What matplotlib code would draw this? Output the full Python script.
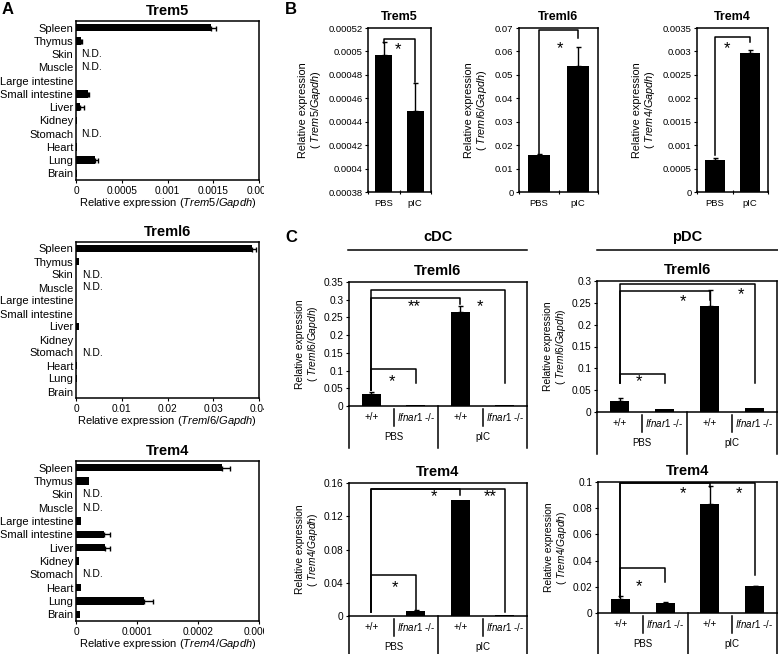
import matplotlib
matplotlib.use('Agg')
import matplotlib.pyplot as plt
import numpy as np
from matplotlib.lines import Line2D
from matplotlib.transforms import blended_transform_factory, offset_copy, Bbox, TransformedBbox

plt.rcParams['font.family'] = ['Liberation Sans', 'DejaVu Sans']
plt.rcParams['mathtext.fontset'] = 'custom'
plt.rcParams['mathtext.it'] = 'Liberation Sans:italic'
plt.rcParams['mathtext.rm'] = 'Liberation Sans'
plt.rcParams['axes.linewidth'] = 1.1

# ---- data: panel A (tissues) ----
tissues = ['Spleen', 'Thymus', 'Skin', 'Muscle', 'Large intestine', 'Small intestine',
           'Liver', 'Kidney', 'Stomach', 'Heart', 'Lung', 'Brain']
not_detected = ['Skin', 'Muscle', 'Stomach']

a_trem5 = [0.00148, 0.00006, 0, 0, 0.000004, 0.000134, 0.000043, 0.000008, 0, 0.000008, 0.000207, 0.000008]
a_trem5_err = [0.00005, 0.00001, 0, 0, 0, 0.00001, 0.00004, 0, 0, 0, 0.000036, 0]
a_treml6 = [0.0384, 0.0007, 0, 0, 0.0001, 0.0001, 0.0007, 0.0001, 0, 0.0002, 0.0002, 0.0001]
a_treml6_err = [0.0009, 0, 0, 0, 0, 0, 0, 0, 0, 0, 0, 0]
a_trem4 = [0.00024, 0.000021, 0, 0, 0.0000077, 0.000046, 0.000047, 0.000005, 0, 0.000008, 0.000111, 0.000006]
a_trem4_err = [0.000012, 0, 0, 0, 0, 0.00001, 0.000008, 0, 0, 0, 0.000016, 0]

# ---- data: panel B (PBS vs pIC) ----
b_groups = ['PBS', 'pIC']
b_trem5 = [0.000497, 0.000449]
b_trem5_err = [0.000011, 0.000024]
b_treml6 = [0.0157, 0.0536]
b_treml6_err = [0.0006, 0.0085]
b_trem4 = [0.00068, 0.00296]
b_trem4_err = [0.00005, 0.00008]

# bracket: (y, left leg bottom, right leg bottom), star (x, y)
b_trem5_br = (0.000511, 0.000507, 0.000474)
b_trem5_star = (0.45, 0.000505)
b_treml6_br = (0.069, 0.0164, 0.0657)
b_treml6_star = (0.54, 0.0627)
b_trem4_br = (0.00331, 0.00079, 0.00321)
b_trem4_star = (0.35, 0.00314)

# ---- data: panel C (cDC / pDC, WT vs Ifnar1-/-) ----
c_genotypes = ['+/+', '$\\it{Ifnar1}$ -/-', '+/+', '$\\it{Ifnar1}$ -/-']
c_treatments = ['PBS', 'pIC']

cdc_treml6 = [0.033, 0.004, 0.265, 0.002]
cdc_treml6_err = [0.006, 0, 0.017, 0]
pdc_treml6 = [0.026, 0.007, 0.242, 0.009]
pdc_treml6_err = [0.006, 0, 0.038, 0]
cdc_trem4 = [0.0004, 0.006, 0.14, 0.0015]
cdc_trem4_err = [0, 0.0008, 0, 0]
pdc_trem4 = [0.0105, 0.0078, 0.083, 0.0205]
pdc_trem4_err = [0.0025, 0.0006, 0.014, 0.0004]

# brackets: (x0, x1, y, leg0 bottom, leg1 bottom)
cdc_treml6_br = [(0, 1, 0.105, 0.045, 0.065), (0, 2, 0.305, 0.045, 0.288), (0, 3, 0.328, 0.045, 0.065)]
cdc_treml6_stars = [(0.47, 0.079, '*'), (0.96, 0.293, '**'), (2.44, 0.293, '*')]
pdc_treml6_br = [(0, 1, 0.086, 0.066, 0.066), (0, 2, 0.277, 0.066, 0.257), (0, 3, 0.292, 0.066, 0.066)]
pdc_treml6_stars = [(0.43, 0.078, '*'), (1.41, 0.261, '*'), (2.7, 0.279, '*')]
cdc_trem4_br = [(0, 1, 0.049, 0.005, 0.005), (0, 2, 0.153, 0.005, 0.146), (0, 3, 0.153, 0.005, 0.005)]
cdc_trem4_stars = [(0.53, 0.0385, '*'), (1.41, 0.148, '*'), (2.67, 0.148, '**')]
pdc_trem4_br = [(0, 1, 0.0346, 0.0122, 0.0237), (0, 2, 0.099, 0.0122, 0.0965), (0, 3, 0.099, 0.0122, 0.0287)]
pdc_trem4_stars = [(0.42, 0.023, '*'), (1.4, 0.094, '*'), (2.64, 0.094, '*')]

W, H = 778, 654
fig = plt.figure(figsize=(W / 100, H / 100), dpi=100)
# panel A tick labels are cut at the panel edge in the original figure
clip_a = TransformedBbox(Bbox.from_extents(0, 0, 264 / W, 1), fig.transFigure)


def add_ax(box):
    l, t, r, b = box
    return fig.add_axes([l / W, 1 - b / H, (r - l) / W, (b - t) / H])


def fig_text(x, y, s, **kw):
    fig.text(x / W, 1 - y / H, s, **kw)


def fig_hline(x0, x1, y):
    fig.add_artist(Line2D([x0 / W, x1 / W], [1 - y / H, 1 - y / H], color='black', lw=1.1))


def star_text(ax, x, y, s):
    tr = offset_copy(ax.transData, fig=fig, x=0, y=-4, units='dots')
    ax.text(x, y, s, transform=tr, fontsize=12, ha='center', va='center')


def upper_err(ax, x, vals, errs, horizontal=False):
    for xi, v, e in zip(x, vals, errs):
        if e <= 0:
            continue
        if horizontal:
            ax.errorbar(v, xi, xerr=[[0], [e]], fmt='none', ecolor='black', elinewidth=1, capsize=1.8, capthick=1)
        else:
            ax.errorbar(xi, v, yerr=[[0], [e]], fmt='none', ecolor='black', elinewidth=1, capsize=1.8, capthick=1)


def tissue_panel(box, title, vals, errs, xmax, ticks, ticklabels, gene, nd_x):
    ax = add_ax(box)
    y = np.arange(len(tissues))
    ax.barh(y, vals, height=0.55, color='black')
    upper_err(ax, y, vals, errs, horizontal=True)
    ax.set_ylim(len(tissues) - 0.5, -0.5)
    ax.set_xlim(0, xmax)
    ax.set_yticks(y)
    ax.set_yticklabels(tissues, fontsize=8)
    ax.tick_params(axis='y', length=0, pad=2)
    ax.set_xticks(ticks)
    ax.set_xticklabels(ticklabels, fontsize=7.3)
    ax.tick_params(axis='x', length=2, width=0.8, pad=2)
    for lab in ax.get_xticklabels():
        lab.set_clip_box(clip_a)
        lab.set_clip_on(True)
    for name in not_detected:
        ax.text(nd_x, tissues.index(name), 'N.D.', fontsize=7.5, va='center')
    ax.set_title(title, fontsize=10.5, fontweight='bold', pad=4)
    ax.set_xlabel('Relative expression ($\\it{%s/Gapdh}$)' % gene, fontsize=8, labelpad=0.5)
    return ax


def pbs_panel(box, title, vals, errs, ylim, yticks, yticklabels, gene, br, star):
    ax = add_ax(box)
    x = np.arange(len(b_groups))
    ax.bar(x, vals, width=0.55, color='black')
    upper_err(ax, x, vals, errs)
    ax.set_xlim(-0.5, 1.5)
    ax.set_ylim(*ylim)
    ax.set_yticks(yticks)
    ax.set_yticklabels(yticklabels, fontsize=6.8)
    ax.tick_params(axis='y', length=2, width=0.8, pad=2)
    ax.set_xticks(x)
    ax.set_xticklabels(b_groups, fontsize=6.8)
    ax.set_xticks([-0.5, 0.5, 1.5], minor=True)
    ax.tick_params(axis='x', which='major', length=0, pad=5)
    ax.tick_params(axis='x', which='minor', length=3, width=0.8, direction='inout')
    y, l0, l1 = br
    ax.plot([0, 0, 1, 1], [l0, y, y, l1], color='black', lw=1.1)
    star_text(ax, star[0], star[1], '*')
    ax.set_title(title, fontsize=9, fontweight='bold', pad=6)
    ax.set_ylabel('Relative expression\n( $\\it{%s/Gapdh}$)' % gene, fontsize=7.8, labelpad=4, linespacing=1.1)
    return ax


def dc_panel(box, title, vals, errs, ymax, yticks, yticklabels, gene, brackets, stars):
    ax = add_ax(box)
    x = np.arange(len(c_genotypes))
    ax.bar(x, vals, width=0.42, color='black')
    upper_err(ax, x, vals, errs)
    ax.set_xlim(-0.5, 3.5)
    ax.set_ylim(0, ymax)
    ax.set_xticks([])
    ax.set_yticks(yticks)
    ax.set_yticklabels(yticklabels, fontsize=7.3)
    ax.tick_params(axis='y', length=2, width=0.8, pad=2)
    for x0, x1, y, l0, l1 in brackets:
        ax.plot([x0, x0, x1, x1], [l0, y, y, l1], color='black', lw=1.1)
    for sx, sy, s in stars:
        star_text(ax, sx, sy, s)
    ax.set_title(title, fontsize=10.5, fontweight='bold', pad=5)
    ax.set_ylabel('Relative expression\n( $\\it{%s/Gapdh}$)' % gene, fontsize=7.4, labelpad=3, linespacing=1.1)

    # two-level category axis below the plot
    h = box[3] - box[1]
    tr = blended_transform_factory(ax.transData, ax.transAxes)
    for xv in [-0.5, 1.5, 3.5]:
        ax.plot([xv, xv], [0, -42 / h], transform=tr, clip_on=False, color='black', lw=1.1)
    for xv in [0.5, 2.5]:
        ax.plot([xv, xv], [-3 / h, -20 / h], transform=tr, clip_on=False, color='black', lw=1.1)
    for xi, s in zip(x, c_genotypes):
        ax.text(xi, -11 / h, s, transform=tr, fontsize=7, ha='center', va='center')
    for xi, s in zip([0.5, 2.5], c_treatments):
        ax.text(xi, -31 / h, s, transform=tr, fontsize=7, ha='center', va='center')
    return ax


# ---- panel A ----
tissue_panel((76, 21, 259, 180), 'Trem5', a_trem5, a_trem5_err, 0.002,
             [0, 0.0005, 0.001, 0.0015, 0.002], ['0', '0.0005', '0.001', '0.0015', '0.002'], 'Trem5', 0.00006)
tissue_panel((76, 242, 259, 398), 'Treml6', a_treml6, a_treml6_err, 0.04,
             [0, 0.01, 0.02, 0.03, 0.04], ['0', '0.01', '0.02', '0.03', '0.04'], 'Treml6', 0.0013)
tissue_panel((76, 461, 259, 621), 'Trem4', a_trem4, a_trem4_err, 0.0003,
             [0, 0.0001, 0.0002, 0.0003], ['0', '0.0001', '0.0002', '0.0003'], 'Trem4', 0.00001)

# ---- panel B ----
t5 = [0.00038, 0.0004, 0.00042, 0.00044, 0.00046, 0.00048, 0.0005, 0.00052]
pbs_panel((368, 28, 431, 192), 'Trem5', b_trem5, b_trem5_err, (0.00038, 0.00052), t5,
          ['0.00038', '0.0004', '0.00042', '0.00044', '0.00046', '0.00048', '0.0005', '0.00052'],
          'Trem5', b_trem5_br, b_trem5_star)
t6 = [0, 0.01, 0.02, 0.03, 0.04, 0.05, 0.06, 0.07]
pbs_panel((519, 28, 598, 192), 'Treml6', b_treml6, b_treml6_err, (0, 0.07), t6,
          ['0', '0.01', '0.02', '0.03', '0.04', '0.05', '0.06', '0.07'],
          'Treml6', b_treml6_br, b_treml6_star)
t4 = [0, 0.0005, 0.001, 0.0015, 0.002, 0.0025, 0.003, 0.0035]
pbs_panel((697, 28, 768, 192), 'Trem4', b_trem4, b_trem4_err, (0, 0.0035), t4,
          ['0', '0.0005', '0.001', '0.0015', '0.002', '0.0025', '0.003', '0.0035'],
          'Trem4', b_trem4_br, b_trem4_star)

# ---- panel C ----
dc_panel((349, 282, 527, 406), 'Treml6', cdc_treml6, cdc_treml6_err, 0.35,
         [0, 0.05, 0.1, 0.15, 0.2, 0.25, 0.3, 0.35], ['0', '0.05', '0.1', '0.15', '0.2', '0.25', '0.3', '0.35'],
         'Treml6', cdc_treml6_br, cdc_treml6_stars)
dc_panel((597, 281, 777, 412), 'Treml6', pdc_treml6, pdc_treml6_err, 0.3,
         [0, 0.05, 0.1, 0.15, 0.2, 0.25, 0.3], ['0', '0.05', '0.1', '0.15', '0.2', '0.25', '0.3'],
         'Treml6', pdc_treml6_br, pdc_treml6_stars)
dc_panel((349, 483, 527, 616), 'Trem4', cdc_trem4, cdc_trem4_err, 0.16,
         [0, 0.04, 0.08, 0.12, 0.16], ['0', '0.04', '0.08', '0.12', '0.16'],
         'Trem4', cdc_trem4_br, cdc_trem4_stars)
dc_panel((598, 482, 777, 613), 'Trem4', pdc_trem4, pdc_trem4_err, 0.1,
         [0, 0.02, 0.04, 0.06, 0.08, 0.1], ['0', '0.02', '0.04', '0.06', '0.08', '0.1'],
         'Trem4', pdc_trem4_br, pdc_trem4_stars)

# headers and panel letters
fig_text(438, 237, 'cDC', fontsize=10.5, fontweight='bold', ha='center', va='center')
fig_hline(348, 527, 250)
fig_text(687, 237, 'pDC', fontsize=10.5, fontweight='bold', ha='center', va='center')
fig_hline(597, 778, 250)
fig_text(2, 9, 'A', fontsize=12, fontweight='bold', ha='left', va='center')
fig_text(285, 9, 'B', fontsize=12, fontweight='bold', ha='left', va='center')
fig_text(285, 238, 'C', fontsize=12, fontweight='bold', ha='left', va='center')

fig.savefig('out.png', dpi=100)
